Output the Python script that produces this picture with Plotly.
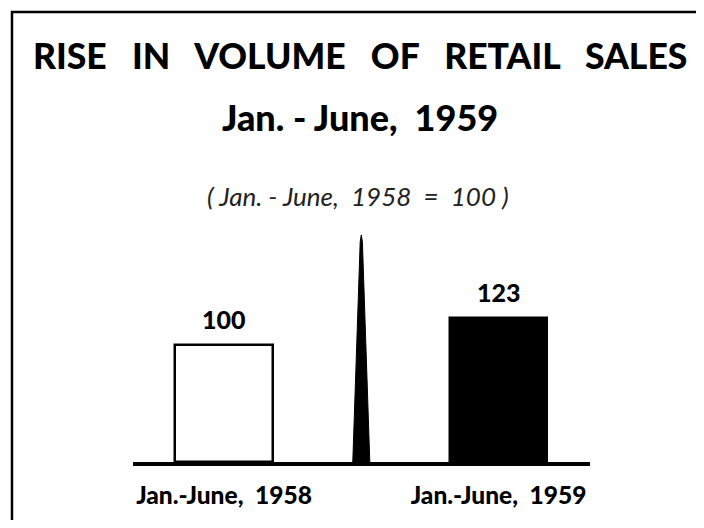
import plotly.graph_objects as go

# Data
periods = ["Jan.-June,\u00a0\u00a01958", "Jan.-June,\u00a0\u00a01959"]
volume_index = [100, 123]
bar_colors = ["white", "black"]
spike_peak = 194  # decorative spike between the two bars, in index units

title_line1 = "\u00a0\u00a0\u00a0".join(["RISE", "IN", "VOLUME", "OF", "RETAIL", "SALES"])
title_line2 = "Jan.\u00a0-\u00a0June,\u00a0\u00a01959"
subtitle = "(\u00a0Jan.\u00a0-\u00a0June,\u00a0\u00a01958\u00a0\u00a0=\u00a0\u00a0100\u00a0)"

BOLD = "Lato, 'DejaVu Sans', sans-serif"

xpos = list(range(len(periods)))
mid = sum(xpos) / len(xpos)

fig = go.Figure()

# the spike in the middle
fig.add_trace(go.Scatter(
    x=[mid - 0.031, mid - 0.004, mid, mid + 0.004, mid + 0.031],
    y=[0, spike_peak * 0.97, spike_peak, spike_peak * 0.97, 0],
    fill="toself", fillcolor="black", mode="lines",
    line=dict(color="black", width=1), hoverinfo="skip", showlegend=False,
))

fig.add_trace(go.Bar(
    x=xpos, y=volume_index, width=0.355,
    marker=dict(color=bar_colors, line=dict(color="black", width=2.5)),
    hoverinfo="skip", showlegend=False,
))

# value labels above bars
for x, v in zip(xpos, volume_index):
    fig.add_annotation(x=x, y=v, text=str(v), showarrow=False,
                       yanchor="bottom", yshift=9,
                       font=dict(family=BOLD, size=25, color="black", weight=900))

# titles (paper coords relative to plot area)
fig.add_annotation(xref="paper", yref="paper", x=0.496, y=1.678, text=title_line1,
                   showarrow=False, yanchor="middle",
                   font=dict(family=BOLD, size=35.5, color="black", weight=900))
fig.add_annotation(xref="paper", yref="paper", x=0.496, y=1.426, text=title_line2,
                   showarrow=False, yanchor="middle",
                   font=dict(family=BOLD, size=36, color="black", weight=900))
fig.add_annotation(xref="paper", yref="paper", x=0.493, y=1.10, text=subtitle,
                   showarrow=False, yanchor="middle",
                   font=dict(family="Lato, 'Open Sans', sans-serif", size=26,
                             color="#222", style="italic"))

# frame around the whole chart
fig.add_shape(type="rect", xref="paper", yref="paper",
              x0=-0.2648, x1=1.3, y0=-0.6, y1=1.8595,
              line=dict(color="black", width=2.5), fillcolor="rgba(0,0,0,0)", layer="below")

# figure sits 8px into the page (body margin), so keep it inside the window
fig.update_layout(
    width=688, height=512,
    paper_bgcolor="white", plot_bgcolor="white",
    margin=dict(l=125, r=106, t=212, b=58),
    bargap=0,
)
fig.update_xaxes(
    range=[-0.3315, 1.333], tickvals=xpos, ticktext=periods,
    showline=True, linecolor="black", linewidth=4, showgrid=False, zeroline=False,
    ticks="", ticklabelstandoff=9,
    tickfont=dict(family=BOLD, size=24.5, color="black", weight=900),
    fixedrange=True,
)
fig.update_yaxes(range=[0, 206.8], visible=False, fixedrange=True)

fig.write_html("out.html")
